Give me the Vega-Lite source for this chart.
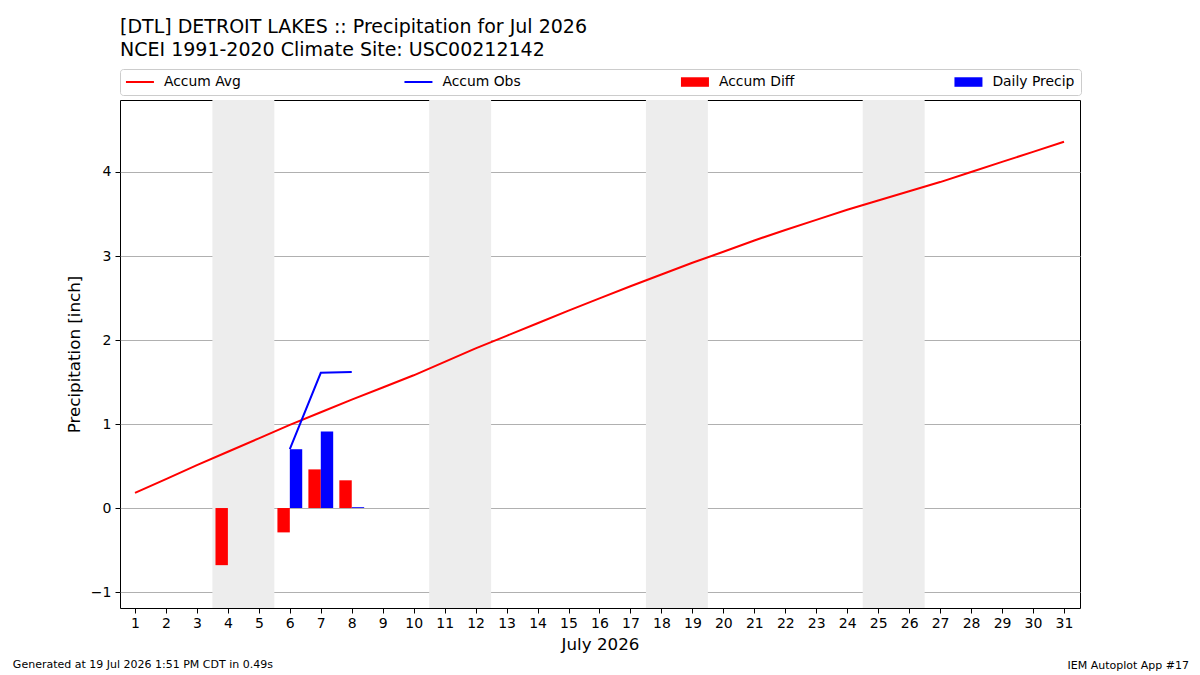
{
  "$schema": "https://vega.github.io/schema/vega-lite/v6.json",
  "background": "white",
  "padding": {"left": 12, "top": 17, "right": 12, "bottom": 4},
  "config": {
    "font": "DejaVu Sans",
    "view": {"stroke": "black", "strokeWidth": 1},
    "concat": {"spacing": 0},
    "title": {"font": "DejaVu Sans", "fontWeight": "normal", "color": "black"}
  },
  "datasets": {
    "weekends": [
      {"start": 3.5, "end": 5.5},
      {"start": 10.5, "end": 12.5},
      {"start": 17.5, "end": 19.5},
      {"start": 24.5, "end": 26.5}
    ],
    "daily": [
      {"day": 1, "avg": 0.18},
      {"day": 2, "avg": 0.345},
      {"day": 3, "avg": 0.51},
      {"day": 4, "avg": 0.67, "diff": -0.68},
      {"day": 5, "avg": 0.83},
      {"day": 6, "avg": 0.99, "obs": 0.70, "diff": -0.29, "precip": 0.70},
      {"day": 7, "avg": 1.14, "obs": 1.61, "diff": 0.46, "precip": 0.91},
      {"day": 8, "avg": 1.29, "obs": 1.62, "diff": 0.33, "precip": 0.01},
      {"day": 9, "avg": 1.435},
      {"day": 10, "avg": 1.58},
      {"day": 11, "avg": 1.74},
      {"day": 12, "avg": 1.90},
      {"day": 13, "avg": 2.05},
      {"day": 14, "avg": 2.20},
      {"day": 15, "avg": 2.35},
      {"day": 16, "avg": 2.495},
      {"day": 17, "avg": 2.64},
      {"day": 18, "avg": 2.78},
      {"day": 19, "avg": 2.92},
      {"day": 20, "avg": 3.05},
      {"day": 21, "avg": 3.185},
      {"day": 22, "avg": 3.31},
      {"day": 23, "avg": 3.43},
      {"day": 24, "avg": 3.55},
      {"day": 25, "avg": 3.66},
      {"day": 26, "avg": 3.77},
      {"day": 27, "avg": 3.88},
      {"day": 28, "avg": 4.00},
      {"day": 29, "avg": 4.12},
      {"day": 30, "avg": 4.24},
      {"day": 31, "avg": 4.36}
    ]
  },
  "title": {
    "text": "Generated at 19 Jul 2026 1:51 PM CDT in 0.49s",
    "orient": "bottom",
    "anchor": "start",
    "frame": "bounds",
    "fontSize": 11,
    "offset": 2,
    "dx": -53,
    "dy": -14
  },
  "resolve": {"scale": {"color": "independent"}, "legend": {"color": "independent"}},
  "vconcat": [
    {
      "title": {
        "text": "IEM Autoplot App #17",
        "orient": "bottom",
        "anchor": "end",
        "frame": "bounds",
        "fontSize": 11,
        "offset": 7,
        "dx": 107
      },
      "resolve": {"scale": {"color": "independent"}, "legend": {"color": "independent"}},
      "vconcat": [
        {
          "title": {
            "text": ["[DTL] DETROIT LAKES :: Precipitation for Jul 2026", "NCEI 1991-2020 Climate Site: USC00212142"],
            "anchor": "start",
            "frame": "group",
            "fontSize": 19,
            "lineHeight": 23,
            "offset": 9
          },
          "width": 960,
          "height": 508,
          "encoding": {
            "x": {
              "type": "quantitative",
              "scale": {"domain": [0.516, 31.517], "nice": false, "zero": false, "padding": 0},
              "axis": {
                "title": "July 2026",
                "values": [1,2,3,4,5,6,7,8,9,10,11,12,13,14,15,16,17,18,19,20,21,22,23,24,25,26,27,28,29,30,31],
                "format": "d",
                "grid": false,
                "domain": false,
                "tickColor": "black",
                "tickSize": 5,
                "labelFontSize": 14,
                "labelColor": "black",
                "labelPadding": 3,
                "titleFontSize": 16.7,
                "titleFontWeight": "normal",
                "titleColor": "black",
                "titlePadding": 6
              }
            },
            "y": {
              "type": "quantitative",
              "scale": {"domain": [-1.19, 4.857], "nice": false, "zero": false, "padding": 0},
              "axis": {
                "title": "Precipitation [inch]",
                "values": [-1, 0, 1, 2, 3, 4],
                "grid": true,
                "gridColor": "#b0b0b0",
                "gridWidth": 1,
                "domain": false,
                "tickColor": "black",
                "tickSize": 5,
                "labelFontSize": 14,
                "labelColor": "black",
                "labelPadding": 4,
                "titleFontSize": 16.7,
                "titleFontWeight": "normal",
                "titleColor": "black",
                "titlePadding": 7
              }
            },
            "color": {
              "type": "nominal",
              "scale": {
                "domain": ["Accum Avg", "Accum Obs", "Accum Diff", "Daily Precip"],
                "range": ["#ff0000", "#0000ff", "#ff0000", "#0000ff"]
              },
              "legend": {
                "title": null,
                "orient": "top",
                "direction": "horizontal",
                "offset": 5,
                "padding": 6,
                "strokeColor": "#cccccc",
                "cornerRadius": 3,
                "fillColor": "white",
                "labelFontSize": 13.9,
                "labelColor": "black",
                "labelOffset": 17,
                "symbolOffset": 7,
                "symbolSize": 784,
                "columnPadding": 158.5,
                "encode": {
                  "symbols": {
                    "update": {
                      "shape": {"signal": "(datum.value == 'Accum Avg' || datum.value == 'Accum Obs') ? 'stroke' : 'M-1,-0.34H1V0.34H-1Z'"},
                      "stroke": {"signal": "(datum.value == 'Accum Avg') ? '#ff0000' : (datum.value == 'Accum Obs') ? '#0000ff' : 'transparent'"},
                      "fill": {"signal": "(datum.value == 'Accum Diff') ? '#ff0000' : (datum.value == 'Daily Precip') ? '#0000ff' : 'transparent'"},
                      "strokeWidth": {"signal": "(datum.value == 'Accum Avg' || datum.value == 'Accum Obs') ? 2 : 0"},
                      "opacity": {"value": 1}
                    }
                  }
                }
              }
            }
          },
          "layer": [
            {
              "data": {"name": "weekends"},
              "mark": {"type": "rect", "color": "#ededed"},
              "encoding": {
                "x": {"field": "start", "type": "quantitative"},
                "x2": {"field": "end"},
                "color": null
              }
            },
            {
              "data": {"name": "daily"},
              "transform": [{"filter": "isValid(datum.diff)"}],
              "mark": {"type": "bar", "width": 12.4, "xOffset": -6.2},
              "encoding": {
                "x": {"field": "day"},
                "y": {"field": "diff"},
                "color": {"datum": "Accum Diff"}
              }
            },
            {
              "data": {"name": "daily"},
              "transform": [{"filter": "isValid(datum.precip)"}],
              "mark": {"type": "bar", "width": 12.4, "xOffset": 6.2},
              "encoding": {
                "x": {"field": "day"},
                "y": {"field": "precip"},
                "color": {"datum": "Daily Precip"}
              }
            },
            {
              "data": {"name": "daily"},
              "mark": {"type": "line", "strokeWidth": 2},
              "encoding": {
                "x": {"field": "day"},
                "y": {"field": "avg"},
                "color": {"datum": "Accum Avg"}
              }
            },
            {
              "data": {"name": "daily"},
              "transform": [{"filter": "isValid(datum.obs)"}],
              "mark": {"type": "line", "strokeWidth": 2},
              "encoding": {
                "x": {"field": "day"},
                "y": {"field": "obs"},
                "color": {"datum": "Accum Obs"}
              }
            }
          ]
        }
      ]
    }
  ]
}
